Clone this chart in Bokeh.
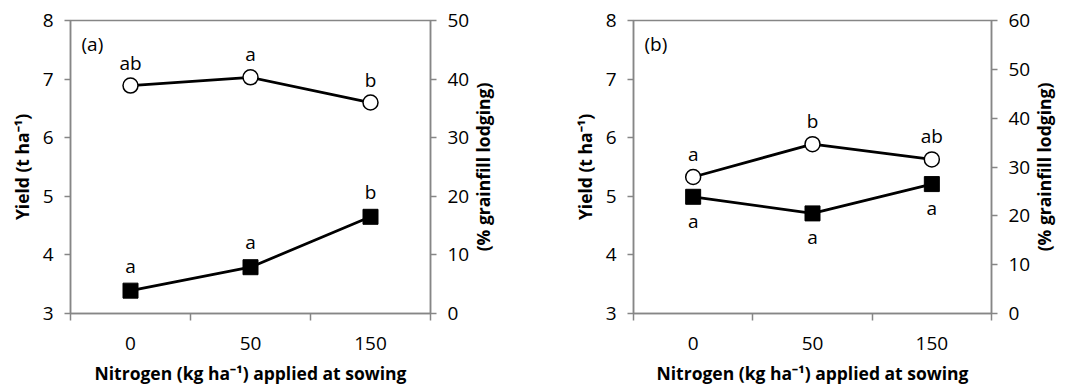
import math
from bokeh.plotting import figure
from bokeh.models import Range1d, LinearAxis, FixedTicker, Label
from bokeh.layouts import row
from bokeh.core.properties import value
from bokeh.embed import file_html
from bokeh.resources import INLINE

# ---------------- data ----------------
nitrogen = ["0", "50", "150"]

yield_a = [6.89, 7.03, 6.60]
lodging_a = [3.9, 7.9, 16.5]
letters_yield_a = ["ab", "a", "b"]
letters_lodging_a = ["a", "a", "b"]

yield_b = [5.33, 5.89, 5.63]
lodging_b = [23.9, 20.5, 26.5]
letters_yield_b = ["a", "b", "ab"]
letters_lodging_b = ["a", "a", "a"]

yield_ticks = [3, 4, 5, 6, 7, 8]
lodging_ticks_a = [0, 10, 20, 30, 40, 50]
lodging_ticks_b = [0, 10, 20, 30, 40, 50, 60]

# ---------------- style ----------------
FONT = "Open Sans"
GREY = "#868686"
TICK_SIZE = "19px"
TITLE_SIZE = "17.5px"
BORDER_TOP, BORDER_BOTTOM = 20, 73


def panel(tag, yld, lod, l_yld, l_lod, lod_ticks, lod_below, width):
    n = len(nitrogen)
    xs = [i + 0.5 for i in range(n)]
    p = figure(width=width, height=387, output_backend="svg", toolbar_location=None,
               x_range=Range1d(0, n), y_range=Range1d(yield_ticks[0], yield_ticks[-1]),
               min_border_left=70, min_border_right=40,
               min_border_top=BORDER_TOP, min_border_bottom=BORDER_BOTTOM)
    p.grid.visible = False
    p.outline_line_color = GREY
    p.outline_line_width = 1.5
    p.background_fill_color = "white"
    p.border_fill_color = "white"
    p.extra_y_ranges = {"lod": Range1d(lod_ticks[0], lod_ticks[-1])}

    # x axis
    xa = p.xaxis[0]
    xa.ticker = FixedTicker(ticks=xs, minor_ticks=list(range(n + 1)))
    xa.major_label_overrides = {x: lab for x, lab in zip(xs, nitrogen)}
    xa.major_tick_out = 0
    xa.major_tick_in = 0
    xa.minor_tick_out = 7
    xa.minor_tick_in = 0
    xa.minor_tick_line_color = GREY
    xa.minor_tick_line_width = 1.5
    xa.axis_label = "Nitrogen (kg ha\u207b\u00b9) applied at sowing"

    # left axis
    ya = p.yaxis[0]
    ya.ticker = FixedTicker(ticks=yield_ticks)
    ya.major_tick_out = 6
    ya.major_tick_in = 0
    ya.minor_tick_out = 0
    ya.minor_tick_in = 0
    ya.axis_label = "Yield (t ha\u207b\u00b9)"

    # right axis
    ra = LinearAxis(y_range_name="lod", ticker=FixedTicker(ticks=lod_ticks))
    ra.major_tick_out = 6
    ra.major_tick_in = 0
    ra.minor_tick_out = 0
    ra.minor_tick_in = 0
    p.add_layout(ra, "right")

    for ax in (xa, ya, ra):
        ax.axis_line_color = GREY
        ax.axis_line_width = 1.5
        ax.major_tick_line_color = GREY
        ax.major_tick_line_width = 1.5
        ax.major_label_text_font = FONT
        ax.major_label_text_font_size = TICK_SIZE
        ax.major_label_text_color = "black"
        ax.axis_label_text_font = FONT
        ax.axis_label_text_font_size = TITLE_SIZE
        ax.axis_label_text_font_style = "bold"
        ax.axis_label_text_color = "black"
    xa.major_label_standoff = 16
    xa.axis_label_standoff = 8
    ya.major_label_standoff = 11
    ya.axis_label_standoff = 6
    ra.major_label_standoff = 11

    # panel tag
    p.add_layout(Label(x=0, y=yield_ticks[-1], x_offset=11, y_offset=-23, text=tag,
                       text_align="left", text_baseline="middle",
                       text_font=FONT, text_font_size=TICK_SIZE, text_color="black"))

    # series
    p.line(xs, lod, y_range_name="lod", line_color="black", line_width=2.75)
    p.line(xs, yld, line_color="black", line_width=2.75)
    p.scatter(xs, lod, y_range_name="lod", marker="square", size=15,
              fill_color="black", line_color="black", line_width=1)
    p.scatter(xs, yld, marker="circle", size=15,
              fill_color="white", line_color="black", line_width=1.5)

    # significance letters
    p.text(xs, yld, text=l_yld, text_align="center", text_baseline="middle",
           y_offset=-23, text_font=value(FONT), text_font_size=TICK_SIZE, text_color="black")
    p.text(xs, lod, text=l_lod, y_range_name="lod", text_align="center",
           text_baseline="middle", y_offset=(24 if lod_below else -25),
           text_font=value(FONT), text_font_size=TICK_SIZE, text_color="black")
    return p


def right_title(width, main):
    """Narrow strip holding the right-axis title, reading bottom-to-top."""
    t = figure(width=width, height=387, output_backend="svg", toolbar_location=None,
               x_range=Range1d(0, 1), y_range=main.y_range,
               x_axis_type=None, y_axis_type=None,
               min_border_left=0, min_border_right=0,
               min_border_top=BORDER_TOP, min_border_bottom=BORDER_BOTTOM)
    t.grid.visible = False
    t.outline_line_color = None
    t.border_fill_color = "white"
    t.background_fill_color = "white"
    t.add_layout(Label(x=0, y=(yield_ticks[0] + yield_ticks[-1]) / 2, x_offset=10,
                       text="(% grainfill lodging)", angle=math.pi / 2,
                       text_align="center", text_baseline="middle",
                       text_font=FONT, text_font_size=TITLE_SIZE,
                       text_font_style="bold", text_color="black"))
    return t


pa = panel("(a)", yield_a, lodging_a, letters_yield_a, letters_lodging_a,
           lodging_ticks_a, False, 472)
ta = right_title(91, pa)
pb = panel("(b)", yield_b, lodging_b, letters_yield_b, letters_lodging_b,
           lodging_ticks_b, True, 470)
tb = right_title(35, pb)

layout = row(pa, ta, pb, tb)
open("out.html", "w").write(file_html(layout, INLINE))
